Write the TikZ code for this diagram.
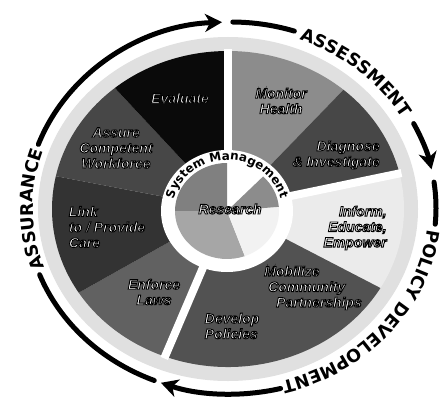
\documentclass[tikz,border=0pt]{standalone}
\usepackage{fontspec}
\setmainfont{Liberation Sans}
\newfontfamily\heavyfont{DejaVu Sans}
\usetikzlibrary{arrows.meta,decorations.text}

\newcommand\ringstyle{\heavyfont\bfseries\fontsize{17.5}{17.5}\selectfont}
\newcommand\hubstyle{\heavyfont\bfseries\fontsize{12}{12}\selectfont}
% white letters with a black rim
\newcommand\embossed[1]{\special{pdf:literal direct 0 G 0.9 w 2 Tr}#1\special{pdf:literal direct 0 Tr}}

\begin{document}
\begin{tikzpicture}[x=1pt,y=1pt,
  wlabel/.style={font=\fontsize{14}{15.5}\selectfont\bfseries\itshape,text=white,inner sep=0pt},
  ringline/.style={line width=5pt,line cap=round},
  ringtip/.style={-{Stealth[length=17pt,width=18pt,inset=5pt]}},
  gap/.style={white,line width=8pt}]

  \useasboundingbox (0,0) rectangle (443,408);
  \fill[white] (0,0) rectangle (443,408);

  \coordinate (wheel) at (228,199);
  \coordinate (ring) at (231,200);
  \coordinate (hub) at (227,197);

  % halo round the wheel
  \fill[black!12] (wheel) ellipse[x radius=190,y radius=172];

  % outer sectors
  \foreach \a/\b/\c in {90/49/black!45, 49/13/black!72, 13/-30/black!8, -30/-111/black!68,
                        -111/-148/black!62, -148/-192/black!80, -192/-230/black!72, -230/-270/black!96}
    \fill[\c] (wheel) -- ++(\a:176 and 158) arc[start angle=\a,end angle=\b,x radius=176,y radius=158] -- cycle;

  % gaps between the three parts
  \foreach \a in {90,13,-111}
    \draw[gap] (wheel) -- ++(\a:178 and 160);

  % hub
  \fill[white] (hub) ellipse[x radius=66,y radius=61];
  \foreach \a/\b/\c in {90/180/black!50, 180/290/black!35, 290/365/black!5, 5/46/black!45}
    \fill[\c] (hub) -- ++(\a:52 and 48) arc[start angle=\a,end angle=\b,x radius=52,y radius=48] -- cycle;
  \path[decorate,decoration={text along path,text align=center,text={|\hubstyle|System Management}}]
    (hub) ++(185:55 and 51) arc[start angle=185,end angle=-5,x radius=55,y radius=51];

  % sector labels
  \node[wlabel] (evaluate) at (180,310) {\embossed{Evaluate}};
  \node[wlabel,align=center] (monitor) at (281,307) {\embossed{Monitor\\Health}};
  \node[wlabel,align=right] (diagnose) at (336,253) {\embossed{Diagnose\\\& Investigate}};
  \node[wlabel,align=right] (inform) at (355,180) {\embossed{Inform,\\Educate,\\Empower}};
  \node[wlabel,align=left] (mobilize) at (313,120) {\embossed{Mobilize\\\hspace{4pt}Community\\\hspace{12pt}Partnerships}};
  \node[wlabel,align=left] (develop) at (232,82) {\embossed{Develop\\Policies}};
  \node[wlabel,align=center] (enforce) at (154,116) {\embossed{Enforce\\Laws}};
  \node[wlabel,align=left] (link) at (107,181) {\embossed{Link\\to / Provide\\Care}};
  \node[wlabel,align=center] (assure) at (116,260) {\embossed{Assure\\Competent\\Workforce}};
  \node[wlabel] (research) at (230,199) {\embossed{Research}};

  % outer ring of arrows
  \draw[ringline] (ring) ++(89.5:205 and 186) arc[start angle=89.5,end angle=72,x radius=205,y radius=186];
  \draw[ringline,ringtip] (ring) ++(27:205 and 186) arc[start angle=27,end angle=12,x radius=205,y radius=186];
  \draw[ringline] (ring) ++(8:205 and 186) arc[start angle=8,end angle=-5,x radius=205,y radius=186];
  \draw[ringline,ringtip] (ring) ++(-76:205 and 186) arc[start angle=-76,end angle=-110,x radius=205,y radius=186];
  \draw[ringline] (ring) ++(248:205 and 186) arc[start angle=248,end angle=201,x radius=205,y radius=186];
  \draw[ringline,ringtip] (ring) ++(160:205 and 186) arc[start angle=160,end angle=92.5,x radius=205,y radius=186];

  % ring texts
  \path[decorate,decoration={text along path,text align=center,text={|\ringstyle|ASSESSMENT}}]
    (ring) ++(82:198 and 179) arc[start angle=82,end angle=17,x radius=198,y radius=179];
  \path[decorate,decoration={text along path,text align=center,text={|\ringstyle|POLICY DEVELOPMENT}}]
    (ring) ++(5:198 and 179) arc[start angle=5,end angle=-86,x radius=198,y radius=179];
  \path[decorate,decoration={text along path,text align=center,text={|\ringstyle|ASSURANCE}}]
    (ring) ++(215:198 and 179) arc[start angle=215,end angle=146,x radius=198,y radius=179];
\end{tikzpicture}
\end{document}
